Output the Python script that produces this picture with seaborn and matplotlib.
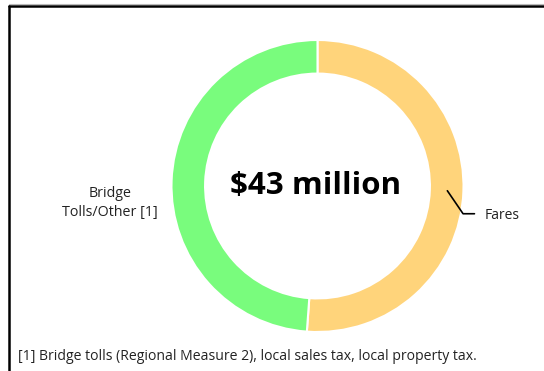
import numpy as np
import matplotlib
matplotlib.use("Agg")
import matplotlib.pyplot as plt
import seaborn as sns
from matplotlib.lines import Line2D

# Revenue sources (millions of dollars)
sources = ["Fares", "Bridge\nTolls/Other [1]"]
amounts = [22, 21]
colors = ["#FFD47B", "#79FC7D"]
total_label = "$43 million"
footnote = "[1] Bridge tolls (Regional Measure 2), local sales tax, local property tax."

sns.set_theme(style="white")
plt.rcParams["font.family"] = ["Open Sans", "DejaVu Sans"]

W, H = 544, 371
fig = plt.figure(figsize=(W / 100, H / 100), dpi=100)
fig.patch.set_facecolor("white")

cx, cy, r = 317.5, 186.0, 146.0
ax = fig.add_axes([(cx - r) / W, (H - cy - r) / H, 2 * r / W, 2 * r / H])
wedges, _ = ax.pie(
    amounts,
    colors=colors,
    startangle=90,
    counterclock=False,
    radius=1.0,
    wedgeprops=dict(width=0.23, edgecolor="white", linewidth=1.5),
)
ax.set_xlim(-1, 1)
ax.set_ylim(-1, 1)
ax.set_aspect("equal")
ax.axis("off")

# center total
ax.text(-0.01, 0.0, total_label, ha="center", va="center",
        fontsize=22.5, fontweight="bold", color="black")

# Fares label with an elbow leader from the middle of its slice
w = wedges[0]
mid = np.deg2rad((w.theta1 + w.theta2) / 2)
p0 = (0.89 * np.cos(mid), 0.89 * np.sin(mid))
elbow = (0.997, -0.19)
end = (1.075, -0.19)
ax.add_line(Line2D([p0[0], elbow[0], end[0]], [p0[1], elbow[1], end[1]],
                   color="black", lw=1.2, clip_on=False))
ax.text(1.145, -0.205, sources[0], ha="left", va="center", fontsize=10,
        color="#222222", clip_on=False)

# Bridge tolls label
ax.text(-1.42, -0.115, sources[1], ha="center", va="center", fontsize=10.3,
        color="#222222", linespacing=1.4, clip_on=False)

fig.text(18 / W, 1 - 357 / H, footnote, ha="left", va="center",
         fontsize=10.1, color="#222222")

# frame along the top and left
fig.add_artist(Line2D([9 / W, 1], [1 - 5.5 / H, 1 - 5.5 / H],
                      transform=fig.transFigure, color="black", lw=1.8))
fig.add_artist(Line2D([9 / W, 9 / W], [0, 1 - 5.5 / H],
                      transform=fig.transFigure, color="black", lw=1.8))
fig.add_artist(Line2D([9 / W, 1], [1 - 3.8 / H, 1 - 3.8 / H],
                      transform=fig.transFigure, color="#BBBBBB", lw=0.8))

fig.savefig("out.png", dpi=100, facecolor="white")
